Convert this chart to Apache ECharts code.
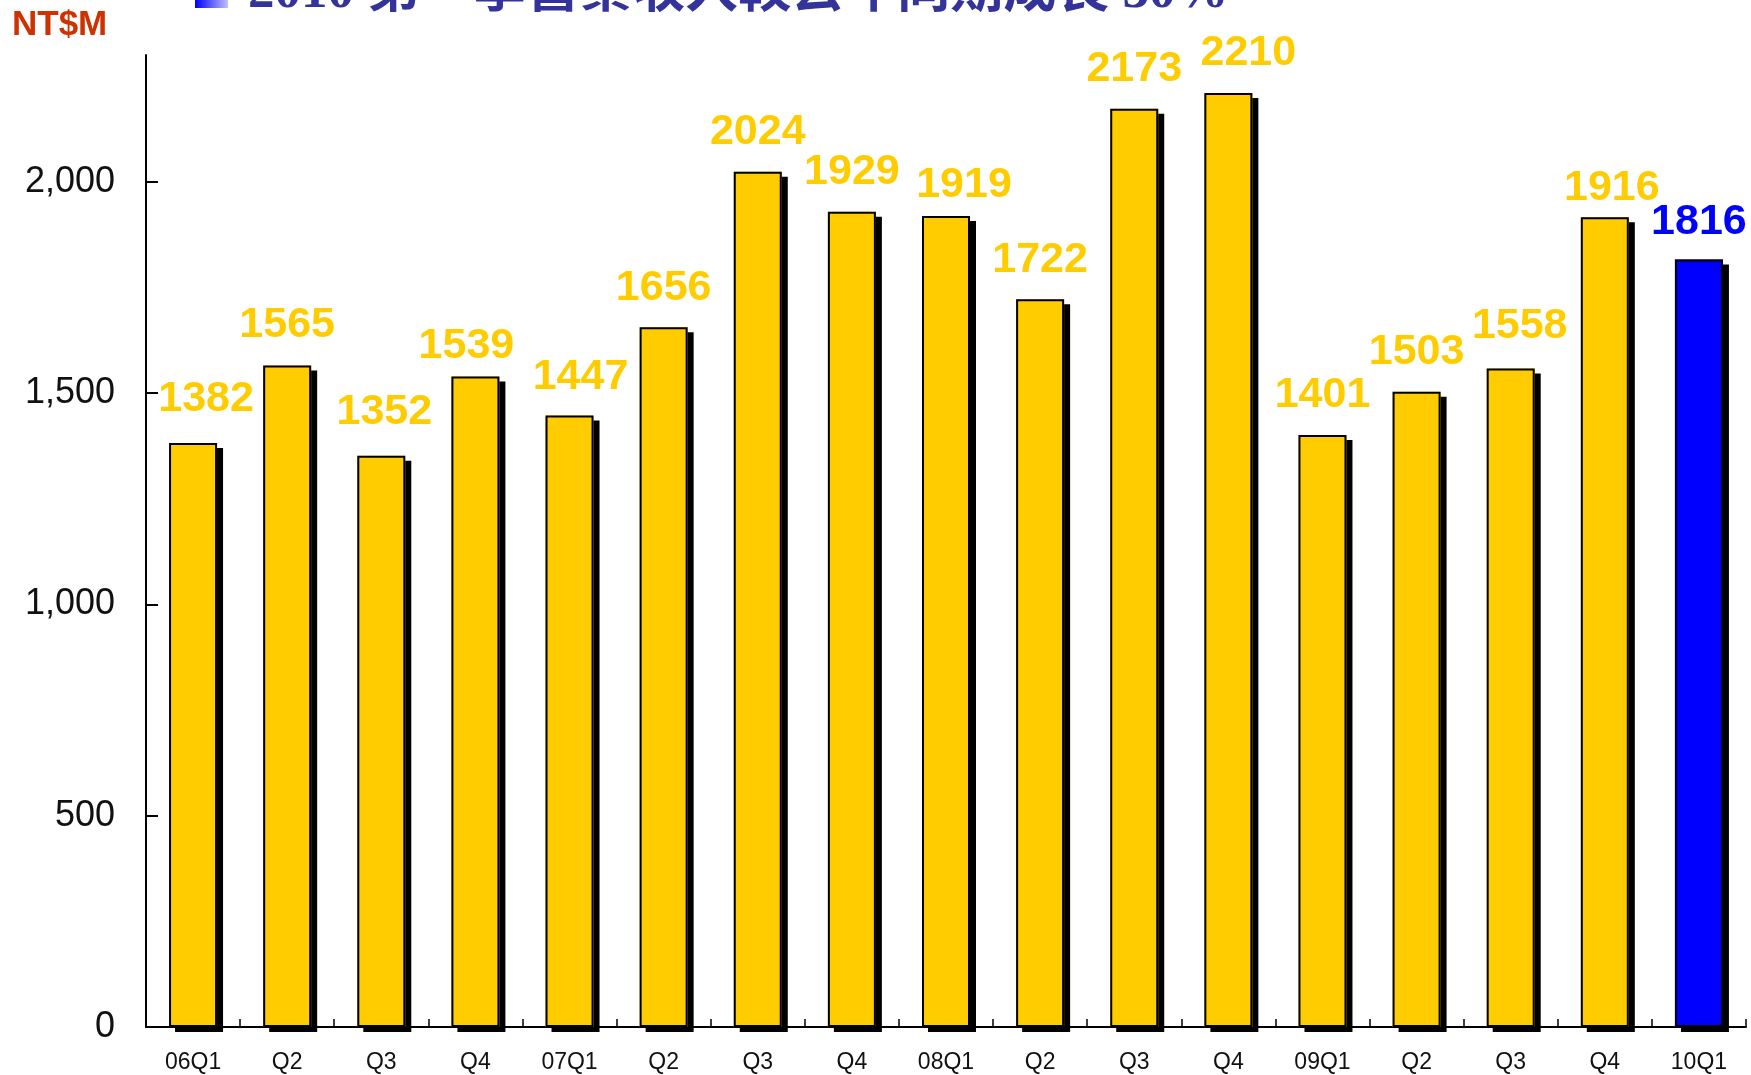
<!DOCTYPE html>
<html><head><meta charset="utf-8">
<script src="https://cdn.jsdelivr.net/npm/echarts@6/dist/echarts.min.js"></script>
<style>html,body{margin:0;padding:0;background:#fff}#c{width:1751px;height:1075px}</style>
</head><body><div id="c"></div>
<script>
const categories = ['06Q1','Q2','Q3','Q4','07Q1','Q2','Q3','Q4','08Q1','Q2','Q3','Q4','09Q1','Q2','Q3','Q4','10Q1'];
const revenue = [1382,1565,1352,1539,1447,1656,2024,1929,1919,1722,2173,2210,1401,1503,1558,1916,1816];
const highlightIndex = 16;
const yTicks = [0,500,1000,1500,2000];
const titleText = '2010 第一季營業收入較去年同期成長 30%';
const unitText = 'NT$M';
// small label nudges [dx, dy] seen in the reference
const labelNudge = [[13,-4],[0,-1],[3,-4],[-9,9],[11,1],[0,0],[0,0],[0,0],[18,9],[0,0],[0,0],[20,0],[0,0],[0,0],[9,-3],[7,10],[0,2]];

const YELLOW = '#FFCC00', BLUE = '#0000FF';
const chart = echarts.init(document.getElementById('c'), null, {renderer:'canvas'});

chart.setOption({
  animation: false,
  backgroundColor: '#fff',
  grid: {left: 146, right: 5, top: 55, bottom: 48, containLabel: false},
  xAxis: {
    type: 'category', data: categories, boundaryGap: true,
    axisLine: {show: true, lineStyle: {color: '#000', width: 2}},
    axisTick: {show: true, inside: true, length: 8, lineStyle: {color: '#000', width: 1.5}},
    axisLabel: {interval: 0, margin: 24, fontSize: 23, color: '#111', fontFamily: 'Arial, "Liberation Sans", sans-serif'},
    splitLine: {show: false}
  },
  yAxis: {
    type: 'value', min: 0, max: 2300, interval: 500,
    axisLine: {show: true, lineStyle: {color: '#000', width: 2}},
    axisTick: {show: true, inside: true, length: 12, customValues: yTicks, lineStyle: {color: '#000', width: 2}},
    axisLabel: {margin: 31, fontSize: 36, color: '#111', customValues: yTicks,
      fontFamily: 'Arial, "Liberation Sans", sans-serif',
      formatter: v => v.toLocaleString('en-US')},
    splitLine: {show: false}
  },
  series: [{
    type: 'bar', barWidth: 48, z: 2,
    data: revenue.map((v, i) => ({
      value: v,
      itemStyle: {color: i === highlightIndex ? BLUE : YELLOW},
      label: {color: i === highlightIndex ? BLUE : YELLOW, offset: labelNudge[i]}
    })),
    itemStyle: {borderWidth: 0, shadowColor: '#000', shadowBlur: 0, shadowOffsetX: 6, shadowOffsetY: 5},
    label: {show: true, position: 'top', distance: 18, fontSize: 43, fontWeight: 'bold',
      fontFamily: 'Arial, "Liberation Sans", sans-serif'}
  }, {
    type: 'bar', barWidth: 48, barGap: '-100%', z: 3, silent: true,
    data: revenue,
    itemStyle: {color: 'rgba(0,0,0,0)', borderColor: '#000', borderWidth: 2},
    label: {show: false}
  }],
  graphic: [
    {type: 'text', x: 12, y: 8, style: {text: unitText, fill: '#CC3300', font: 'bold 35px Arial, "Liberation Sans", sans-serif'}},
    {type: 'rect', shape: {x: 195, y: -24, width: 33, height: 32},
      style: {fill: new echarts.graphic.LinearGradient(0, 0, 1, 0, [{offset: 0, color: '#0000FF'}, {offset: 1, color: '#C0C0FF'}])}},
    {type: 'text', x: 248, y: -7, style: {
      text: titleText, fill: '#333399', verticalAlign: 'middle',
      font: 'bold 53px "Liberation Serif", "Noto Sans CJK TC", serif'
    }}
  ]
});
</script></body></html>
